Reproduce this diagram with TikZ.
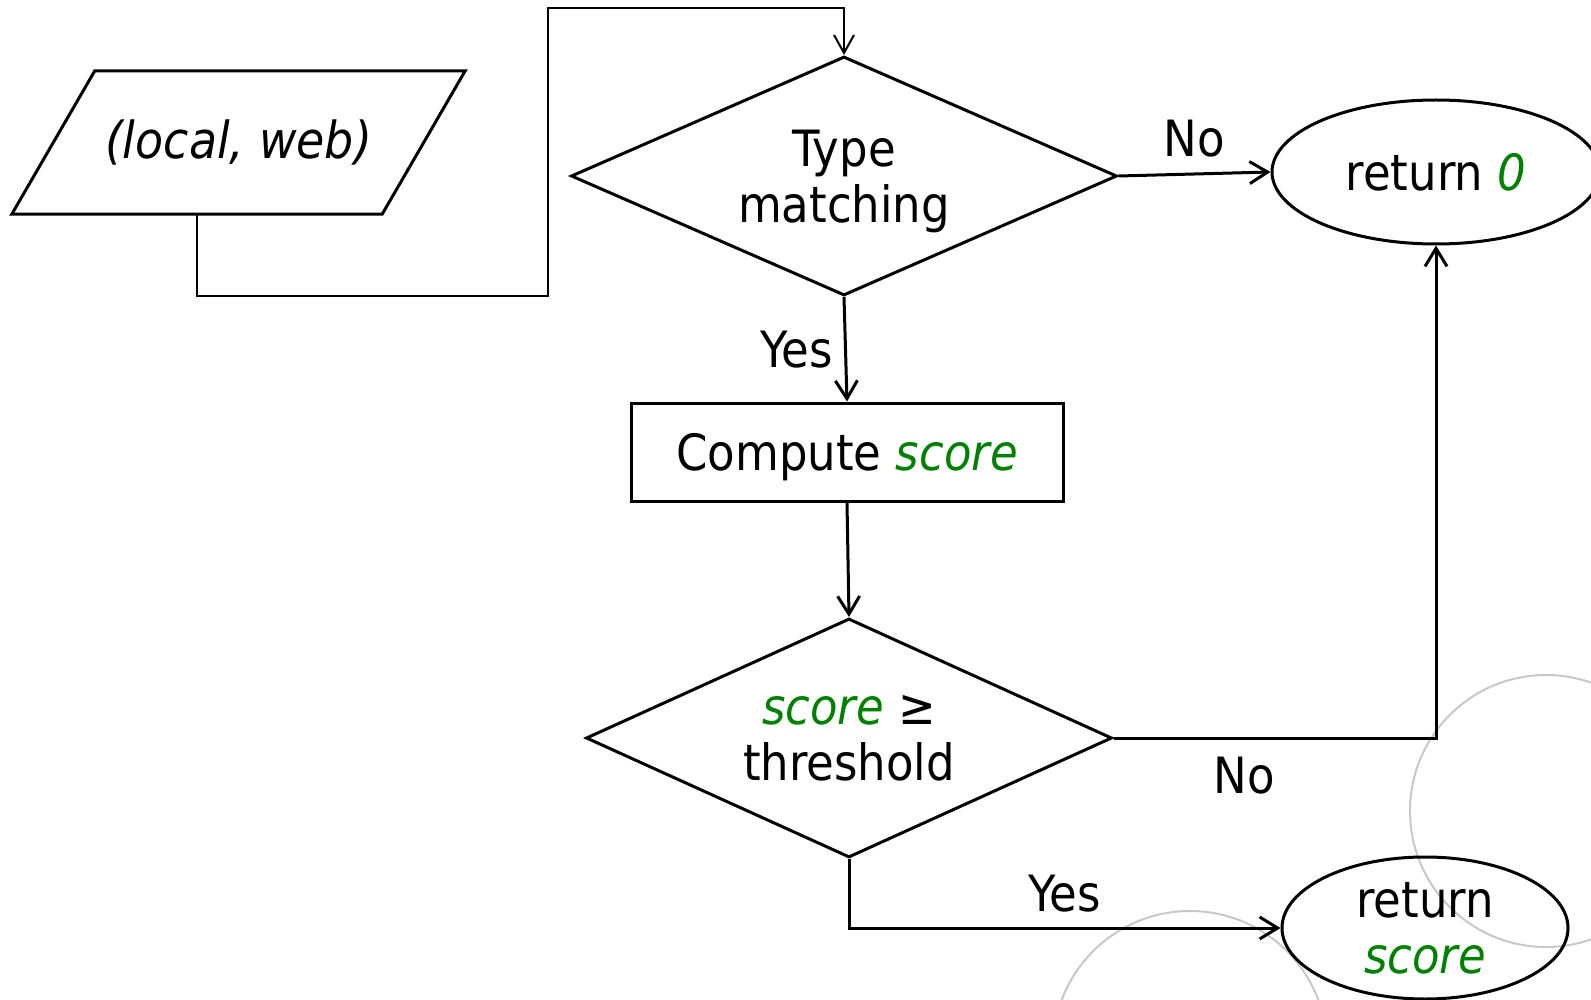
\documentclass[tikz,border=0pt]{standalone}
\usepackage{fontspec}
\setmainfont{DejaVu Sans}[FakeStretch=0.9]
\usetikzlibrary{shapes.geometric,arrows.meta,calc}
\definecolor{scgreen}{RGB}{0,128,0}
\definecolor{ringgray}{RGB}{200,200,200}
\newcommand{\grn}[1]{\textcolor{scgreen}{\itshape #1}}
\begin{document}
\begin{tikzpicture}[x=1pt,y=-1pt,
  base/.style={draw,line width=3pt,inner sep=0pt,font=\fontsize{50}{56}\selectfont,align=center},
  dec/.style={base,diamond,aspect=2.2},
  iotext/.style={inner sep=0pt,font=\fontsize{51}{56}\selectfont,align=center},
  term/.style={base,ellipse},
  proc/.style={base,rectangle},
  conn/.style={line width=3pt,-{Straight Barb[length=18pt,width=22pt]}},
  thinconn/.style={line width=2pt,-{Straight Barb[length=18pt,width=20pt]}},
  lbl/.style={inner sep=0pt,font=\fontsize{50}{56}\selectfont},
  ring/.style={draw=ringgray,line width=2pt}]
\useasboundingbox (0,0) rectangle (1591,1000);
\clip (0,0) rectangle (1591,1000);
\fill[white] (0,0) rectangle (1591,1000);
% faint background rings
\draw[ring] (1546,811) circle[radius=136];
\draw[ring] (1190,1048) circle[radius=137];
% input parallelogram
\node[iotext, minimum width=370pt, minimum height=143pt] (in) at (238.5,142.5) {\itshape (local, web)};
\draw[line width=3pt, line join=miter]
  ($(in.south west)+(-41.5,0)$) -- ($(in.south east)+(-41.5,0)$) --
  ($(in.north east)+(41.5,0)$) -- ($(in.north west)+(41.5,0)$) -- cycle;
% nodes
\node[dec, minimum width=546pt, minimum height=239pt, text depth=0pt] (tm) at (844,176) {Type\\matching};
\node[term, minimum width=328pt, minimum height=144pt] (r0) at (1436,172) {return \grn{0}};
\node[proc, minimum width=432pt, minimum height=98pt, text depth=0pt] (cs) at (847,452) {Compute \grn{score}};
\node[dec, minimum width=526pt, minimum height=239pt] (th) at (849,738) {\grn{score} ≥\\threshold};
\node[term, minimum width=286pt, minimum height=142pt] (rs) at (1425,928) {return\\\grn{score}};
% connectors
\coordinate (ib) at ($(in.south)+(-41.5,0)$);
\coordinate (k1) at (548,296);
\coordinate (k2) at (548,8);
\draw[thinconn] (ib) -- (ib |- k1) -- (k1) -- (k2) -- (k2 -| tm.north) -- (tm.north);
\draw[conn] (tm.east) -- node[lbl,above=15pt]{No} (r0.west);
\draw[conn] (tm.south) -- node[lbl,left=11pt]{Yes} (cs.north);
\draw[conn] (cs.south) -- (th.north);
\draw[conn] (th.east) -- node[lbl,below=18pt,pos=0.405]{No} (th.east -| r0.south) -- (r0.south);
\draw[conn] (th.south) |- node[lbl,above=14pt,pos=0.75]{Yes} (rs.west);
\end{tikzpicture}
\end{document}
